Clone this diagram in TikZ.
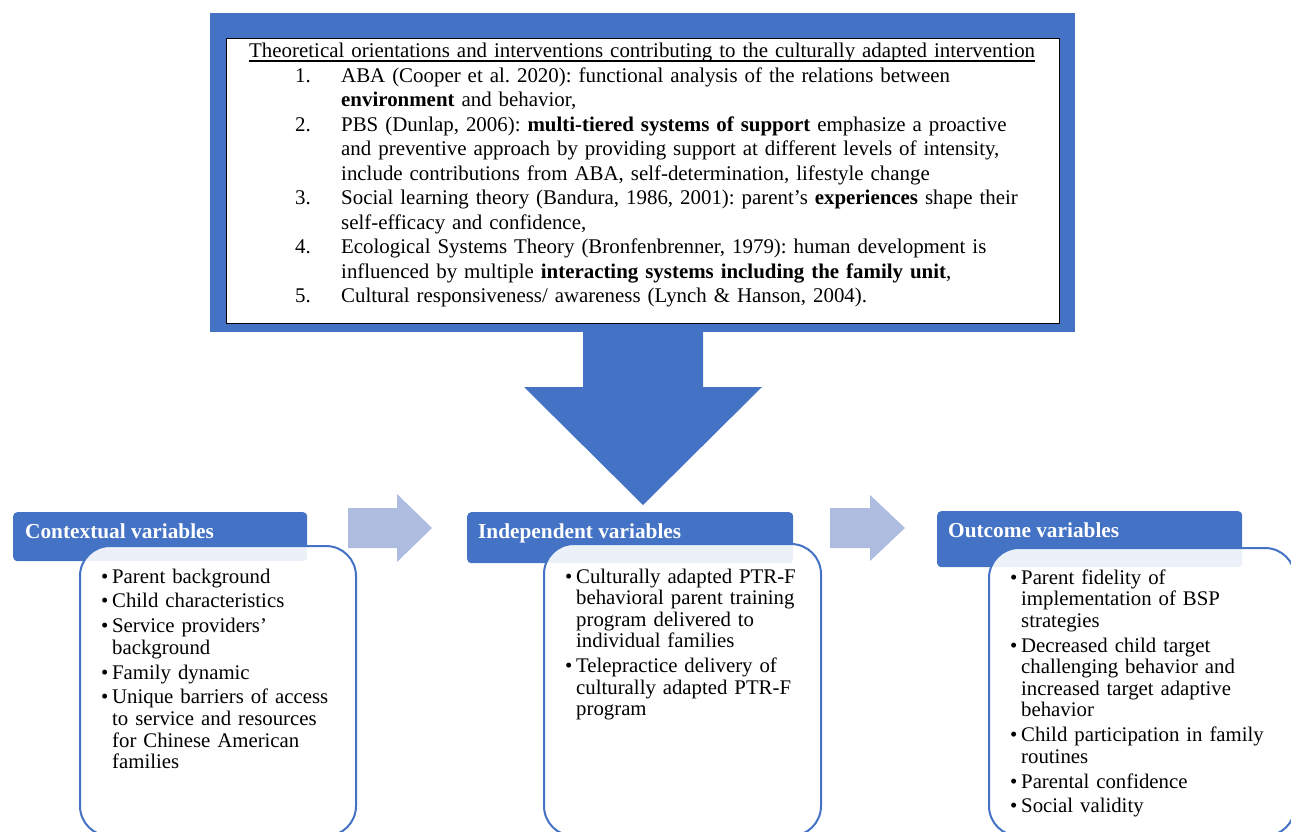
\documentclass[tikz,border=0pt]{standalone}
\usepackage{fontspec}
\setmainfont{Liberation Serif}
\frenchspacing
\definecolor{mainblue}{RGB}{68,114,196}
\definecolor{paleblue}{RGB}{174,188,224}
% numbered line with hanging text, bullet line with hanging text
\newcommand{\numitem}[1]{\leftskip=46pt\hangindent=46pt\hangafter=1\makebox[46pt][l]{#1}}
\newcommand{\bitem}{\hangindent=11pt\hangafter=1\makebox[11pt][l]{\textbullet}}
% underline close to the baseline
\newcommand{\titleline}[1]{\setbox0\hbox{#1}\rlap{\rule[-3.6pt]{\wd0}{1.5pt}}\box0}
\begin{document}
\begin{tikzpicture}[x=1pt, y=-1pt,
    header/.style={fill=mainblue, rounded corners=4pt, anchor=north west, inner sep=0pt},
    headtext/.style={text=white, font=\fontsize{21.3}{24}\selectfont\bfseries, anchor=base west, inner sep=0pt},
    listbox/.style={draw=mainblue, line width=2pt, fill=white, fill opacity=0.9, rounded corners=30pt, anchor=north west, inner sep=0pt},
    listtext/.style={font=\fontsize{20.8}{21.6}\selectfont, align=left, anchor=base west, inner sep=0pt}]
    \useasboundingbox (0,0) rectangle (1291,832);
    \clip (0,0) rectangle (1291,832);
    % Theory box
    \node[fill=mainblue, minimum width=865pt, minimum height=319pt, anchor=north west, inner sep=0pt] (frame) at (210,13) {};
    \node[draw=black, line width=1.2pt, fill=white, minimum width=833pt, minimum height=285pt, anchor=north west, inner sep=0pt] (inner) at (226,38) {};
    \node[font=\fontsize{20.9}{24.5}\selectfont, text width=810pt, align=left, anchor=base west, inner sep=0pt] (theory) at (249,58) {%
        \titleline{Theoretical orientations and interventions contributing to the culturally adapted intervention}\par
        \numitem{1.}ABA (Cooper et al. 2020): functional analysis of the relations between\newline \textbf{environment} and behavior,\par
        \numitem{2.}PBS (Dunlap, 2006): \textbf{multi-tiered systems of support} emphasize a proactive\newline and preventive approach by providing support at different levels of intensity,\newline include contributions from ABA, self-determination, lifestyle change\par
        \numitem{3.}Social learning theory (Bandura, 1986, 2001): parent's \textbf{experiences} shape their\newline self-efficacy and confidence,\par
        \numitem{4.}Ecological Systems Theory (Bronfenbrenner, 1979): human development is\newline influenced by multiple \textbf{interacting systems including the family unit},\par
        \numitem{5.}Cultural responsiveness/ awareness (Lynch \& Hanson, 2004).\par};
    % Big arrow down
    \fill[mainblue] (583,332) -- (703,332) -- (703,387) -- (762,387) -- (643,505) -- (524,387) -- (583,387) -- cycle;
    % Arrows between the columns
    \fill[paleblue] (348,508) -- (397,508) -- (397,494) -- (432,528) -- (397,562) -- (397,548) -- (348,548) -- cycle;
    \fill[paleblue] (830,508) -- (870,508) -- (870,495) -- (905,528) -- (870,561) -- (870,548) -- (830,548) -- cycle;
    % Headers
    \node[header, minimum width=294pt, minimum height=49pt] (ctxhead) at (13,512) {};
    \node[header, minimum width=326pt, minimum height=51pt] (indhead) at (467,512) {};
    \node[header, minimum width=305pt, minimum height=56pt] (outhead) at (937,511) {};
    % List boxes
    \node[listbox, minimum width=276pt, minimum height=290pt] (ctxbox) at (79,545) {};
    \node[listbox, minimum width=277pt, minimum height=292pt] (indbox) at (543,543) {};
    \node[listbox, minimum width=306pt, minimum height=288pt] (outbox) at (988,547) {};
    % Header labels
    \node[headtext] (ctxtitle) at (25,538) {Contextual variables};
    \node[headtext] (indtitle) at (478,538) {Independent variables};
    \node[headtext] (outtitle) at (948,537) {Outcome variables};
    % Lists
    \node[listtext, text width=250pt] (ctxlist) at (101,583) {\setlength{\parskip}{3.2pt}%
        \bitem Parent background\par
        \bitem Child characteristics\par
        \bitem Service providers'\newline background\par
        \bitem Family dynamic\par
        \bitem Unique barriers of access\newline to service and resources\newline for Chinese American\newline families\par};
    \node[listtext, text width=255pt] (indlist) at (565,583) {\setlength{\parskip}{3.2pt}%
        \bitem Culturally adapted PTR-F\newline behavioral parent training\newline program delivered to\newline individual families\par
        \bitem Telepractice delivery of\newline culturally adapted PTR-F\newline program\par};
    \node[listtext, text width=275pt] (outlist) at (1010,584) {\setlength{\parskip}{3.2pt}%
        \bitem Parent fidelity of\newline implementation of BSP\newline strategies\par
        \bitem Decreased child target\newline challenging behavior and\newline increased target adaptive\newline behavior\par
        \bitem Child participation in family\newline routines\par
        \bitem Parental confidence\par
        \bitem Social validity\par};
\end{tikzpicture}
\end{document}
